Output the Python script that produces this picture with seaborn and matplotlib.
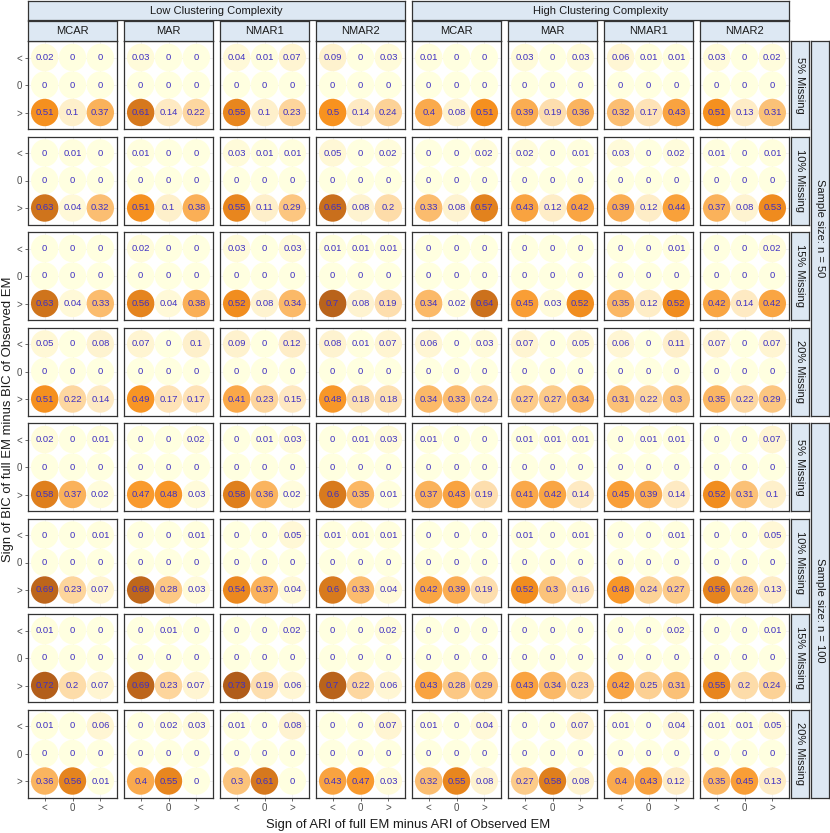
import numpy as np
import pandas as pd
import matplotlib
matplotlib.use("Agg")
import matplotlib.pyplot as plt
import seaborn as sns
from matplotlib.colors import LinearSegmentedColormap, Normalize

# ---------------- data ----------------
complexities = ["Low Clustering Complexity", "High Clustering Complexity"]
mechanisms = ["MCAR", "MAR", "NMAR1", "NMAR2"]
missing_levels = ["5% Missing", "10% Missing", "15% Missing", "20% Missing"]
sample_sizes = ["Sample size: n = 50", "Sample size: n = 100"]
sign_levels = ["<", "0", ">"]

# proportions: [missing level][panel (Low MCAR..NMAR2, High MCAR..NMAR2)] -> ARI sign (<, 0, >)
bic_lt_n50 = [
    [[0.02, 0, 0], [0.03, 0, 0], [0.04, 0.01, 0.07], [0.09, 0, 0.03],
     [0.01, 0, 0], [0.03, 0, 0.03], [0.06, 0.01, 0.01], [0.03, 0, 0.02]],
    [[0, 0.01, 0], [0.01, 0, 0], [0.03, 0.01, 0.01], [0.05, 0, 0.02],
     [0, 0, 0.02], [0.02, 0, 0.01], [0.03, 0, 0.02], [0.01, 0, 0.01]],
    [[0, 0, 0], [0.02, 0, 0], [0.03, 0, 0.03], [0.01, 0.01, 0.01],
     [0, 0, 0], [0, 0, 0], [0, 0, 0.01], [0, 0, 0.02]],
    [[0.05, 0, 0.08], [0.07, 0, 0.1], [0.09, 0, 0.12], [0.08, 0.01, 0.07],
     [0.06, 0, 0.03], [0.07, 0, 0.05], [0.06, 0, 0.11], [0.07, 0, 0.07]],
]
bic_gt_n50 = [
    [[0.51, 0.1, 0.37], [0.61, 0.14, 0.22], [0.55, 0.1, 0.23], [0.5, 0.14, 0.24],
     [0.4, 0.08, 0.51], [0.39, 0.19, 0.36], [0.32, 0.17, 0.43], [0.51, 0.13, 0.31]],
    [[0.63, 0.04, 0.32], [0.51, 0.1, 0.38], [0.55, 0.11, 0.29], [0.65, 0.08, 0.2],
     [0.33, 0.08, 0.57], [0.43, 0.12, 0.42], [0.39, 0.12, 0.44], [0.37, 0.08, 0.53]],
    [[0.63, 0.04, 0.33], [0.56, 0.04, 0.38], [0.52, 0.08, 0.34], [0.7, 0.08, 0.19],
     [0.34, 0.02, 0.64], [0.45, 0.03, 0.52], [0.35, 0.12, 0.52], [0.42, 0.14, 0.42]],
    [[0.51, 0.22, 0.14], [0.49, 0.17, 0.17], [0.41, 0.23, 0.15], [0.48, 0.18, 0.18],
     [0.34, 0.33, 0.24], [0.27, 0.27, 0.34], [0.31, 0.22, 0.3], [0.35, 0.22, 0.29]],
]
bic_lt_n100 = [
    [[0.02, 0, 0.01], [0, 0, 0.02], [0, 0.01, 0.03], [0, 0.01, 0.03],
     [0.01, 0, 0], [0.01, 0.01, 0.01], [0, 0.01, 0.01], [0, 0, 0.07]],
    [[0, 0, 0.01], [0, 0, 0.01], [0, 0, 0.05], [0.01, 0.01, 0.01],
     [0, 0, 0], [0.01, 0, 0.01], [0, 0, 0.01], [0, 0, 0.05]],
    [[0.01, 0, 0], [0, 0.01, 0], [0, 0, 0.02], [0, 0, 0.02],
     [0, 0, 0], [0, 0, 0], [0, 0, 0.02], [0, 0, 0.01]],
    [[0.01, 0, 0.06], [0, 0.02, 0.03], [0.01, 0, 0.08], [0, 0, 0.07],
     [0.01, 0, 0.04], [0, 0, 0.07], [0.01, 0, 0.04], [0.01, 0.01, 0.05]],
]
bic_gt_n100 = [
    [[0.58, 0.37, 0.02], [0.47, 0.48, 0.03], [0.58, 0.36, 0.02], [0.6, 0.35, 0.01],
     [0.37, 0.43, 0.19], [0.41, 0.42, 0.14], [0.45, 0.39, 0.14], [0.52, 0.31, 0.1]],
    [[0.69, 0.23, 0.07], [0.68, 0.28, 0.03], [0.54, 0.37, 0.04], [0.6, 0.33, 0.04],
     [0.42, 0.39, 0.19], [0.52, 0.3, 0.16], [0.48, 0.24, 0.27], [0.56, 0.26, 0.13]],
    [[0.72, 0.2, 0.07], [0.69, 0.23, 0.07], [0.73, 0.19, 0.06], [0.7, 0.22, 0.06],
     [0.43, 0.28, 0.29], [0.43, 0.34, 0.23], [0.42, 0.25, 0.31], [0.55, 0.2, 0.24]],
    [[0.36, 0.56, 0.01], [0.4, 0.55, 0], [0.3, 0.61, 0], [0.43, 0.47, 0.03],
     [0.32, 0.55, 0.08], [0.27, 0.58, 0.08], [0.4, 0.43, 0.12], [0.35, 0.45, 0.13]],
]
# the "0" BIC row is zero in every panel
bic_eq_all = [0, 0, 0]

rows = []
for s_i, (lt, gt) in enumerate([(bic_lt_n50, bic_gt_n50), (bic_lt_n100, bic_gt_n100)]):
    for m_i in range(len(missing_levels)):
        for p in range(8):
            for bic_sign, vals in zip(sign_levels, [lt[m_i][p], bic_eq_all, gt[m_i][p]]):
                for ari_sign, v in zip(sign_levels, vals):
                    rows.append(dict(size=s_i, missing=m_i, panel=p,
                                     bic=bic_sign, ari=ari_sign, value=v))
df = pd.DataFrame(rows)
df["xpos"] = df["ari"].map({"<": 0, "0": 1, ">": 2})
df["ypos"] = df["bic"].map({"<": 2, "0": 1, ">": 0})

# ---------------- style ----------------
sns.set_style("white")
plt.rcParams["font.family"] = ["Liberation Sans", "DejaVu Sans"]

cmap = LinearSegmentedColormap.from_list(
    "fillscale",
    [(0.0, "#FFFFE0"), (0.2, "#FEE9C2"), (0.685, "#F8921F"), (1.0, "#B05C1A")])
norm = Normalize(vmin=0, vmax=0.73)

W, H = 830, 833
fig = plt.figure(figsize=(W / 100, H / 100), dpi=100)

def fx(px):
    return px / W

def fy(py):
    return 1 - py / H

PL, PT, PW, PH, STEP = 28, 41, 89, 88, 95.5
edge = "#333333"
strip_fill = "#DDE8F3"
txt_col = "#3F30C2"

def add_strip(x0, y0, x1, y1, text, rotation=0, size=8):
    sax = fig.add_axes([fx(x0), fy(y1), fx(x1) - fx(x0), fy(y0) - fy(y1)])
    sax.set_facecolor(strip_fill)
    sax.set_xticks([]); sax.set_yticks([])
    for sp in sax.spines.values():
        sp.set_color(edge); sp.set_linewidth(0.9)
    sax.text(0.5, 0.5, text, ha="center", va="center", rotation=rotation,
             fontsize=size, color="#1A1A1A", transform=sax.transAxes)

n_rows = 8
for r in range(n_rows):
    s_i, m_i = divmod(r, 4)
    for c in range(8):
        left = PL + 96 * c
        top = PT + STEP * r
        ax = fig.add_axes([fx(left), fy(top + PH), PW / W, PH / H])
        sub = df[(df["size"] == s_i) & (df["missing"] == m_i) & (df["panel"] == c)]
        sns.scatterplot(data=sub, x="xpos", y="ypos", hue="value", palette=cmap,
                        hue_norm=norm, s=390, linewidth=0, legend=False, ax=ax, zorder=3)
        for _, rr in sub.iterrows():
            ax.text(rr["xpos"], rr["ypos"], f"{rr['value']:g}", ha="center", va="center",
                    fontsize=6.8, color=txt_col, zorder=4)
        ax.set_xlim(-0.6, 2.6)
        ax.set_ylim(-0.6, 2.6)
        ax.set_xticks([0, 1, 2])
        ax.set_yticks([0, 1, 2])
        ax.grid(True, color="#EBEBEB", linewidth=0.5, zorder=0)
        ax.set_axisbelow(True)
        ax.set_xlabel(""); ax.set_ylabel("")
        for sp in ax.spines.values():
            sp.set_color(edge); sp.set_linewidth(0.9); sp.set_visible(True)
        if c == 0:
            ax.set_yticklabels([">", "0", "<"], fontsize=7, color="#4D4D4D")
            ax.tick_params(axis="y", length=2.5, width=0.5, color="#333333", pad=1.5, left=True)
        else:
            ax.set_yticklabels([])
            ax.tick_params(axis="y", length=0)
        if r == n_rows - 1:
            ax.set_xticklabels(sign_levels, fontsize=7, color="#4D4D4D")
            ax.tick_params(axis="x", length=2.5, width=0.5, color="#333333", pad=1.5, bottom=True)
        else:
            ax.set_xticklabels([])
            ax.tick_params(axis="x", length=0)

# top strips
for k, comp in enumerate(complexities):
    x0 = PL + 96 * 4 * k
    x1 = x0 + 96 * 3 + PW
    add_strip(x0, 1, x1, 20, comp)
for c in range(8):
    x0 = PL + 96 * c
    add_strip(x0, 21, x0 + PW, 40.5, mechanisms[c % 4])

# right strips
rx = PL + 96 * 7 + PW
for r in range(n_rows):
    top = PT + STEP * r
    add_strip(rx + 1.5, top, rx + 20, top + PH, missing_levels[r % 4], rotation=-90)
for s_i, lab in enumerate(sample_sizes):
    top = PT + STEP * 4 * s_i
    add_strip(rx + 21.5, top, rx + 40, top + STEP * 3 + PH, lab, rotation=-90)

bottom = PT + STEP * 7 + PH
fig.text(fx((PL + rx) / 2), fy(825), "Sign of ARI of full EM minus ARI of Observed EM",
         ha="center", va="center", fontsize=9.4, color="#1A1A1A")
fig.text(fx(8), fy((PT + bottom) / 2), "Sign of BIC of full EM minus BIC of Observed EM",
         ha="center", va="center", rotation=90, fontsize=9.4, color="#1A1A1A")

fig.savefig("out.png", dpi=100)
